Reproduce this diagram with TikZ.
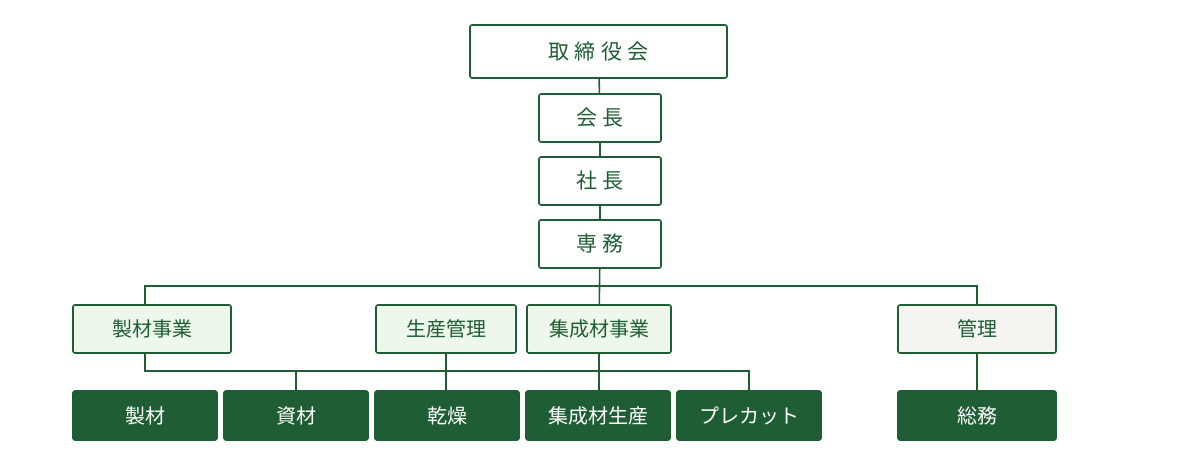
\documentclass[tikz,border=0pt]{standalone}
\usepackage{fontspec}
\setmainfont{Noto Sans CJK JP}
\newfontfamily\wide[LetterSpace=25]{Noto Sans CJK JP}
\usetikzlibrary{positioning}
\definecolor{dgreen}{HTML}{1F5E35}
\definecolor{lgreen}{HTML}{EEF7EC}
\definecolor{lgray}{HTML}{F4F4F2}
\begin{document}
\begin{tikzpicture}[x=1pt,y=-1pt,
  line width=1.6pt,
  box/.style={draw=dgreen,fill=white,rounded corners=2pt,text=dgreen,minimum height=48pt,inner sep=0pt,font=\fontsize{21}{21}\selectfont\wide},
  dept/.style={box,fill=lgreen,minimum width=158pt,font=\fontsize{20}{20}\selectfont},
  sect/.style={box,fill=dgreen,text=white,minimum width=144pt,minimum height=49pt,font=\fontsize{20}{20}\selectfont}]
  \useasboundingbox (0,0) rectangle (1200,468);
      \node [box,minimum width=257pt,minimum height=53pt] (board) at (598.5,51.5) {取締役会};
      \node [box,minimum width=122pt] (chair) at (600,118) {会長};
      \node [box,minimum width=122pt] (pres) at (600,181) {社長};
      \node [box,minimum width=122pt] (sen) at (600,244) {専務};

      \node [dept] (seizai) at (152,329) {製材事業};
      \node [dept,minimum width=140pt] (kanri) at (446,329) {生産管理};
      \node [dept,minimum width=144pt] (shusei) at (599,329) {集成材事業};
      \node [dept,fill=lgray] (admin) at (977,329) {管理};

      \node [sect] (s1) at (145,415.5) {製材};
      \node [sect] (s2) at (296,415.5) {資材};
      \node [sect] (s3) at (447,415.5) {乾燥};
      \node [sect] (s4) at (598,415.5) {集成材生産};
      \node [sect] (s5) at (749,415.5) {プレカット};
      \node [sect,minimum width=158pt] (s6) at (977,415.5) {総務};

      \coordinate (top) at (600,286);
      \coordinate (low) at (600,371);

      \begin{scope}[draw=dgreen]
      \draw (board) -- (chair);
      \draw (chair) -- (pres);
      \draw (pres) -- (sen);
      \draw (sen) -- (shusei);
      \draw (seizai.north -| s1) |- (top) -| (admin);
      \draw (seizai.south -| s1) |- (low) -| (s5);
      \draw (s2) |- (low);
      \draw (kanri) |- (low);
      \draw (s3.north -| kanri) -- (kanri.south);
      \draw (shusei) -- (s4.north -| shusei);
      \draw (admin) -- (s6);
      \end{scope}
\end{tikzpicture}
\end{document}
